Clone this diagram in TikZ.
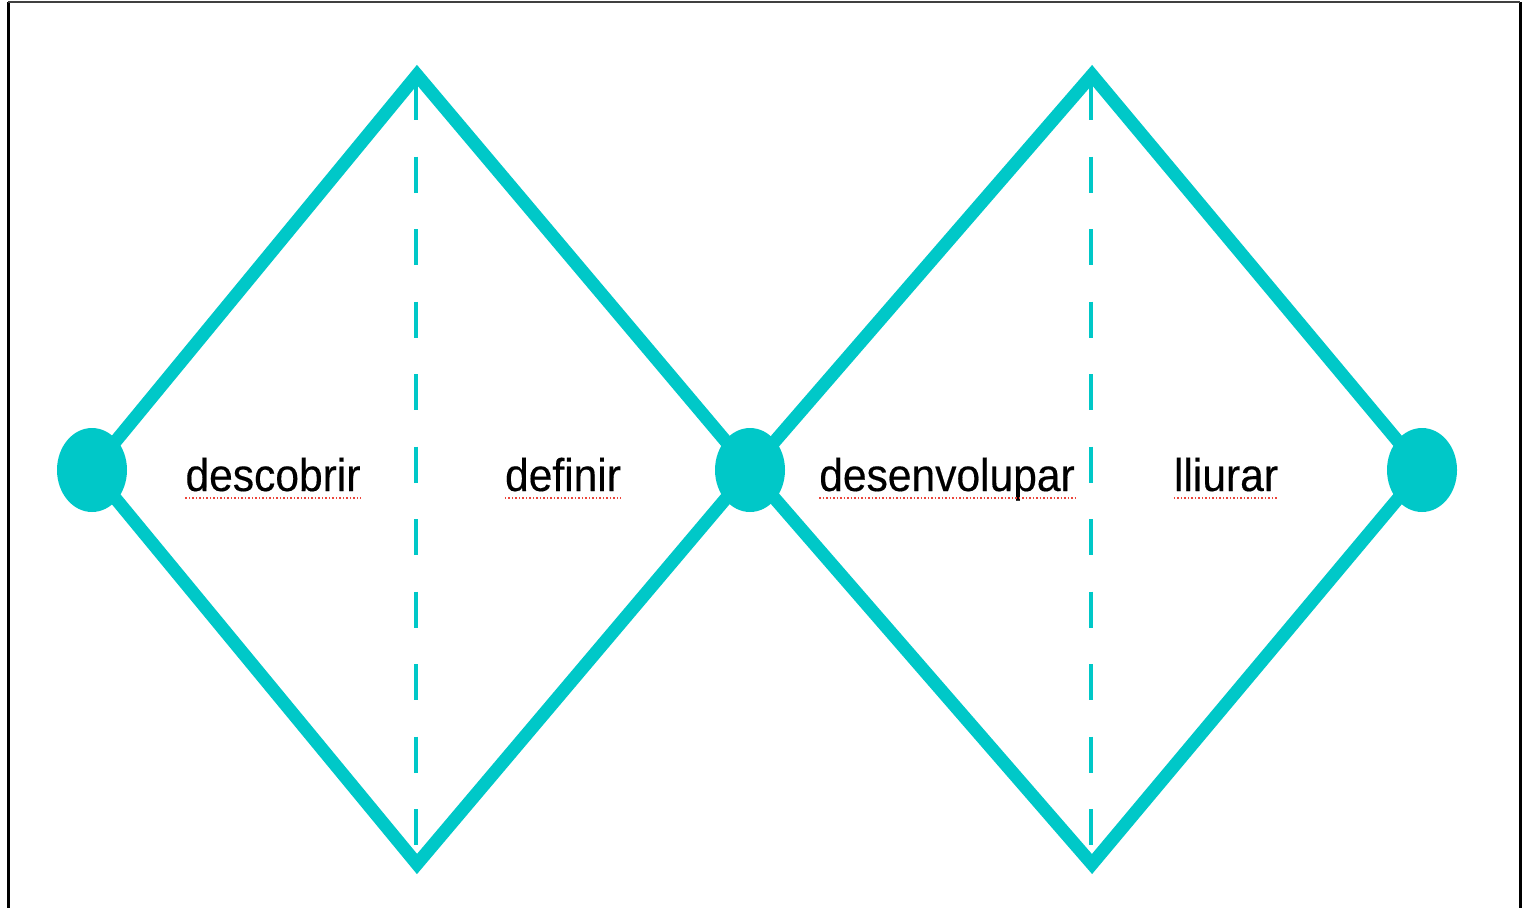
\documentclass[tikz,border=0pt]{standalone}
\usepackage{fontspec}
\setmainfont{Liberation Sans}
\newfontfamily\lblfont[FakeBold=0.3]{Liberation Sans}
\usetikzlibrary{shapes.geometric}
\definecolor{teal2}{RGB}{0,200,200}
\definecolor{spell}{RGB}{235,70,60}
\newcommand{\lbltext}[1]{\scalebox{0.925}[1]{#1}}
\begin{document}
\begin{tikzpicture}[x=1pt,y=-1pt,
  side/.style={draw=teal2,line width=13pt,line join=miter},
  mid/.style={draw=teal2,line width=4.5pt,dash pattern=on 36pt off 36.5pt},
  dot/.style={ellipse,fill=teal2,minimum width=70pt,minimum height=84pt,inner sep=0pt},
  lbl/.style={anchor=base,inner sep=0pt,font=\lblfont\fontsize{46}{54}\selectfont,text=black},
  squig/.style={draw=spell,line width=1.5pt,dash pattern=on 1.5pt off 2pt}]
\useasboundingbox (0,0) rectangle (1522,907);
\begin{scope}
\clip (0,0) rectangle (1522,907);
\draw[line width=3pt] (8,2) -- (8,930);
\draw[line width=3pt] (1520,2) -- (1520,930);
\draw[line width=2.5pt,draw=black!75] (8,2) -- (1520,2);
\end{scope}
% vertices
\coordinate (L) at (92,470);
\coordinate (T1) at (417,75);
\coordinate (B1) at (417,864);
\coordinate (M) at (750,470);
\coordinate (T2) at (1092,75);
\coordinate (B2) at (1092,864);
\coordinate (R) at (1422,470);
\coordinate (T1i) at (416,84);
\coordinate (B1i) at (416,846);
\coordinate (T2i) at (1091,84);
\coordinate (B2i) at (1091,846);
\draw[side] (L) -- (T1) -- (M) -- (B1) -- cycle;
\draw[side] (M) -- (T2) -- (R) -- (B2) -- cycle;
\draw[mid] (T1i) -- (B1i);
\draw[mid] (T2i) -- (B2i);
\node[dot] (dl) at (L) {};
\node[dot] (dm) at (M) {};
\node[dot] (dr) at (R) {};
\node[lbl] (t1) at (273,491) {\lbltext{descobrir}};
\node[lbl] (t2) at (563,491) {\lbltext{definir}};
\node[lbl] (t3) at (947,491) {\lbltext{desenvolupar}};
\node[lbl] (t4) at (1226,491) {\lbltext{lliurar}};
\foreach \n in {t1,t2,t3,t4}{
  \draw[squig] ([yshift=-7pt]\n.base west) -- ([yshift=-7pt]\n.base east);
}
\end{tikzpicture}
\end{document}
